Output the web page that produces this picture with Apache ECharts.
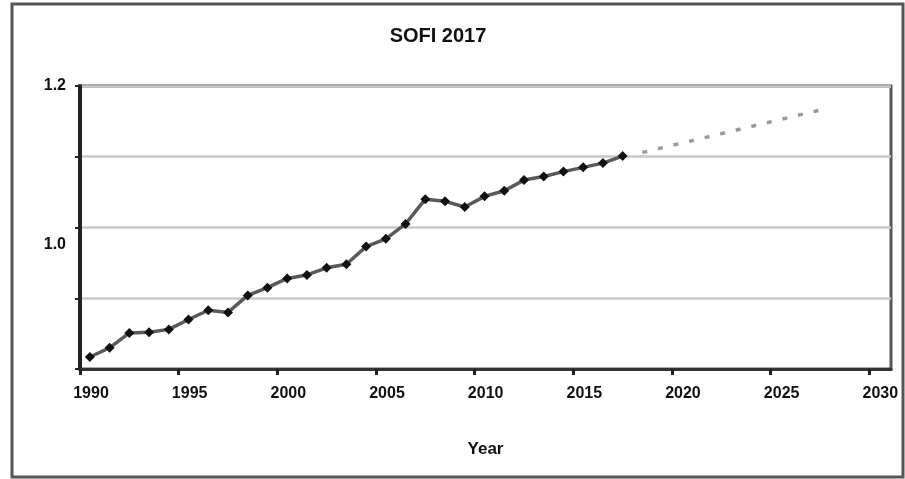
<!DOCTYPE html>
<html>
<head>
<meta charset="utf-8">
<script src="https://cdn.jsdelivr.net/npm/echarts@6/dist/echarts.min.js"></script>
<style>
  html, body { margin: 0; padding: 0; background: #fff; }
  #chart { width: 905px; height: 479px; filter: blur(0.4px); }
</style>
</head>
<body>
<div id="chart"></div>
<script>
// ---- data ----
const years = [1990, 1991, 1992, 1993, 1994, 1995, 1996, 1997, 1998, 1999,
               2000, 2001, 2002, 2003, 2004, 2005, 2006, 2007, 2008, 2009,
               2010, 2011, 2012, 2013, 2014, 2015, 2016, 2017];
const sofi = [0.817, 0.830, 0.851, 0.852, 0.856, 0.870, 0.883, 0.880, 0.904, 0.915,
              0.928, 0.933, 0.943, 0.948, 0.973, 0.984, 1.005, 1.040, 1.037, 1.029,
              1.044, 1.052, 1.067, 1.072, 1.079, 1.085, 1.091, 1.101];
const projYears = [2018, 2027];
const projValues = [1.106, 1.166];
const xTickLabels = [1990, 1995, 2000, 2005, 2010, 2015, 2020, 2025, 2030];
const yTickValues = [0.8, 0.9, 1.0, 1.1, 1.2];
const yLabelValues = [1.2, 1.0];
const titleText = 'SOFI 2017';
const xName = 'Year';

const FONT = '"Liberation Sans", Arial, sans-serif';
const chart = echarts.init(document.getElementById('chart'));

// values are annual, plotted at mid-year
const mainData = years.map((y, i) => [y + 0.5, sofi[i]]);
const projData = projYears.map((y, i) => [y + 0.5, projValues[i]]);

chart.setOption({
  animation: false,
  backgroundColor: '#fff',
  title: {
    text: titleText,
    left: 438,
    top: 26,
    textAlign: 'center',
    padding: 0,
    textStyle: { fontFamily: FONT, fontSize: 20, fontWeight: 'bold', color: '#111' }
  },
  graphic: [{
    type: 'rect',
    shape: { x: 12, y: 4, width: 891, height: 473 },
    style: { fill: 'none', stroke: '#555', lineWidth: 3 },
    silent: true
  }],
  grid: {
    left: 80, right: 14, top: 86, bottom: 110,
    show: true, borderColor: '#555', borderWidth: 3, backgroundColor: '#fff'
  },
  xAxis: {
    type: 'value',
    min: 1990, max: 2031.1, interval: 5,
    name: xName,
    nameLocation: 'middle',
    nameGap: 72,
    nameTextStyle: { fontFamily: FONT, fontSize: 17, fontWeight: 'bold', color: '#111' },
    axisLine: { show: true, lineStyle: { color: '#333', width: 3 } },
    axisTick: { show: true, length: 6, customValues: xTickLabels, lineStyle: { color: '#222', width: 3 } },
    axisLabel: {
      customValues: xTickLabels,
      formatter: v => String(Math.round(v)),
      fontFamily: FONT, fontSize: 16, fontWeight: 'bold', color: '#111',
      margin: 17, padding: [0, 0, 0, 22]
    },
    splitLine: { show: false }
  },
  yAxis: {
    type: 'value',
    min: 0.8, max: 1.2, interval: 0.1,
    axisLine: { show: true, lineStyle: { color: '#222', width: 4 } },
    axisTick: { show: true, length: 5, customValues: yTickValues, lineStyle: { color: '#222', width: 2 } },
    axisLabel: {
      customValues: yLabelValues,
      formatter: v => (Math.abs(v - 1.0) < 1e-6 ? '\n' + v.toFixed(1) : v.toFixed(1)),
      fontFamily: FONT, fontSize: 16, fontWeight: 'bold', color: '#111',
      margin: 14, lineHeight: 34
    },
    splitLine: { show: true, lineStyle: { color: '#c8c8c8', width: 2.5 } }
  },
  series: [
    {
      type: 'line',
      data: mainData,
      lineStyle: { color: '#5a5a5a', width: 3.5 },
      symbol: 'diamond',
      symbolSize: 10,
      itemStyle: { color: '#111' },
      z: 3
    },
    {
      type: 'line',
      data: projData,
      symbol: 'none',
      lineStyle: { color: '#9a9a9a', width: 3.5, type: [5, 11], cap: 'butt' },
      z: 2
    }
  ]
});
</script>
</body>
</html>
